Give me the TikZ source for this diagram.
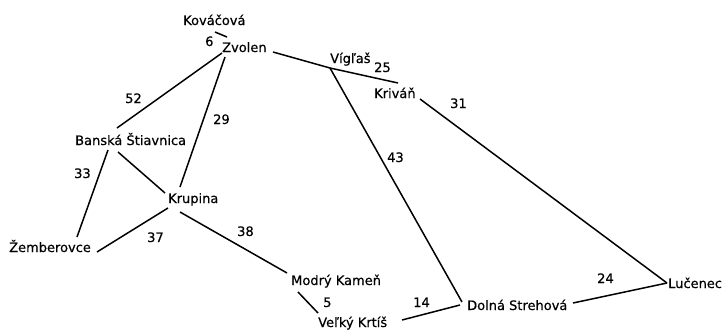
\documentclass[tikz,border=0pt]{standalone}
\usepackage{fontspec}
\setmainfont{DejaVu Sans}
\newfontfamily\maplabelfont{DejaVu Sans}[FakeBold=0.5]
\usetikzlibrary{calc}
\begin{document}
\begin{tikzpicture}[x=1pt,y=-1pt,
  city/.style={anchor=base west,inner sep=0pt,font=\maplabelfont\fontsize{13}{15}\selectfont},
  dist/.style={anchor=base west,inner sep=0pt,font=\maplabelfont\fontsize{13}{15}\selectfont},
  road/.style={line width=1.5pt,black}]
\useasboundingbox (0,0) rectangle (726,330);
% cities
\node[city] (kov) at (183,25) {Kováčová};
\node[city] (zv)  at (222,52) {Zvolen};
\node[city] (vig) at (330,63) {Vígľaš};
\node[city] (kri) at (374,98) {Kriváň};
\node[city] (ban) at (75,145) {Banská Štiavnica};
\node[city] (kru) at (168,203) {Krupina};
\node[city] (zem) at (9,252) {Žemberovce};
\node[city] (mod) at (291,285) {Modrý Kameň};
\node[city] (vel) at (318,327) {Veľký Krtíš};
\node[city] (dol) at (467,310) {Dolná Strehová};
\node[city] (luc) at (668,288) {Lučenec};
% distances
\node[dist] (d6)  at (205,46) {6};
\node[dist] (d25) at (374,72) {25};
\node[dist] (d52) at (125,103) {52};
\node[dist] (d29) at (213,124) {29};
\node[dist] (d33) at (74,178) {33};
\node[dist] (d37) at (147,242) {37};
\node[dist] (d38) at (237,236) {38};
\node[dist] (d43) at (387,162) {43};
\node[dist] (d31) at (450,108) {31};
\node[dist] (d5)  at (323,307) {5};
\node[dist] (d14) at (413,307) {14};
\node[dist] (d24) at (597,283) {24};
% roads
\draw[road] ($(kov.base west)+(32,7)$) -- ($(zv.base west)+(5,-15)$);
\draw[road] ($(zv.base west)+(51,0)$) -- ($(vig.base west)+(0,5)$);
\draw[road] ($(vig.base west)+(0,5)$) -- ($(kri.base west)+(24,-15)$);
\draw[road] ($(vig.base west)+(0,5)$) -- ($(dol.base west)+(-5,-8)$);
\draw[road] ($(zv.base west)+(0,1)$) -- ($(ban.base west)+(42,-17)$);
\draw[road] ($(zv.base west)+(3,5)$) -- ($(kru.base west)+(12,-16)$);
\draw[road] ($(ban.base west)+(33,5)$) -- ($(zem.base west)+(68,-15)$);
\draw[road] ($(ban.base west)+(43,7)$) -- ($(kru.base west)+(-3,-10)$);
\draw[road] ($(kru.base west)+(0,5)$) -- ($(zem.base west)+(88,0)$);
\draw[road] ($(kru.base west)+(12,9)$) -- ($(mod.base west)+(-4,-12)$);
\draw[road] ($(mod.base west)+(7,7)$) -- ($(vel.base west)+(0,-14)$);
\draw[road] ($(vel.base west)+(84,-7)$) -- ($(dol.base west)+(-7,-5)$);
\draw[road] ($(dol.base west)+(106,-7)$) -- ($(luc.base west)+(-1,-5)$);
\draw[road] ($(kri.base west)+(46,1)$) -- ($(luc.base west)+(-1,-5)$);
\end{tikzpicture}
\end{document}
